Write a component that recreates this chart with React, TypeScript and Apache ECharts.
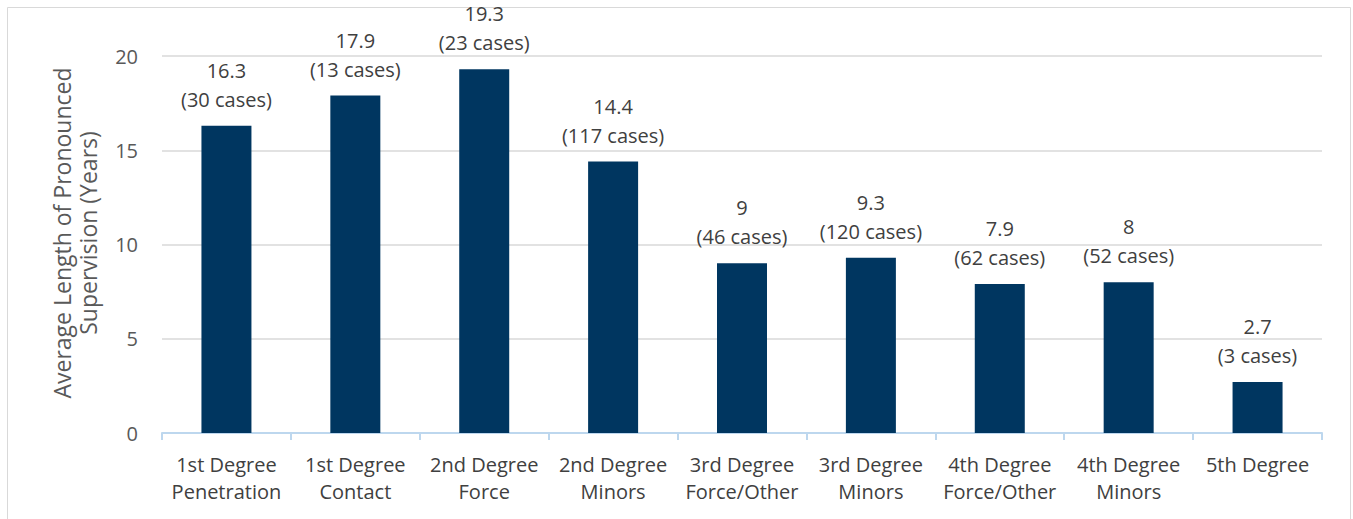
import React, { useEffect, useRef } from "react";
import * as echarts from "echarts";

const categories = [
  "1st Degree\nPenetration",
  "1st Degree\nContact",
  "2nd Degree\nForce",
  "2nd Degree\nMinors",
  "3rd Degree\nForce/Other",
  "3rd Degree\nMinors",
  "4th Degree\nForce/Other",
  "4th Degree\nMinors",
  "5th Degree",
];
const avgYears = [16.3, 17.9, 19.3, 14.4, 9, 9.3, 7.9, 8, 2.7];
const caseCounts = [30, 13, 23, 117, 46, 120, 62, 52, 3];
const yTicks = { min: 0, max: 20, interval: 5 };
const yTitle = "Average Length of Pronounced\nSupervision (Years)";

const FONT = "'Open Sans', 'Noto Sans', sans-serif";

export default function App() {
  const ref = useRef<HTMLDivElement>(null);
  useEffect(() => {
    document.body.style.margin = "0";
    const chart = echarts.init(ref.current!, null, { renderer: "svg" });
    chart.setOption({
      animation: false,
      textStyle: { fontFamily: FONT },
      grid: { left: 162, right: 31, top: 56, bottom: 86 },
      graphic: [
        {
          type: "rect",
          shape: { x: 7.5, y: 7.5, width: 1343, height: 530 },
          style: { fill: "none", stroke: "#d9d9d9", lineWidth: 1 },
          silent: true,
        },
        {
          type: "text",
          x: 75,
          y: 233,
          rotation: Math.PI / 2,
          style: {
            text: yTitle,
            font: `23px ${FONT}`,
            fill: "#595959",
            align: "center",
            verticalAlign: "middle",
            lineHeight: 26,
          },
        },
      ],
      xAxis: {
        type: "category",
        data: categories,
        axisLine: { lineStyle: { color: "#bdd7ee", width: 2 } },
        axisTick: { show: true, length: 7, lineStyle: { color: "#bdd7ee", width: 2 } },
        axisLabel: {
          color: "#404040",
          fontSize: 20,
          lineHeight: 27,
          margin: 18,
          interval: 0,
          fontFamily: FONT,
        },
      },
      yAxis: {
        type: "value",
        min: yTicks.min,
        max: yTicks.max,
        interval: yTicks.interval,
        axisLine: { show: false },
        axisTick: { show: false },
        splitLine: { lineStyle: { color: "#d9d9d9", width: 1.5 } },
        axisLabel: { color: "#595959", fontSize: 20, margin: 24, fontFamily: FONT },
      },
      series: [
        {
          type: "bar",
          data: avgYears,
          barWidth: 50,
          itemStyle: { color: "#003660" },
          label: {
            show: true,
            position: "top",
            distance: 12,
            color: "#404040",
            fontSize: 20,
            lineHeight: 29,
            fontFamily: FONT,
            formatter: (p: any) => `${p.value}\n(${caseCounts[p.dataIndex]} cases)`,
          },
        },
      ],
    });
    return () => chart.dispose();
  }, []);
  return <div ref={ref} style={{ width: 1353, height: 519 }} />;
}
